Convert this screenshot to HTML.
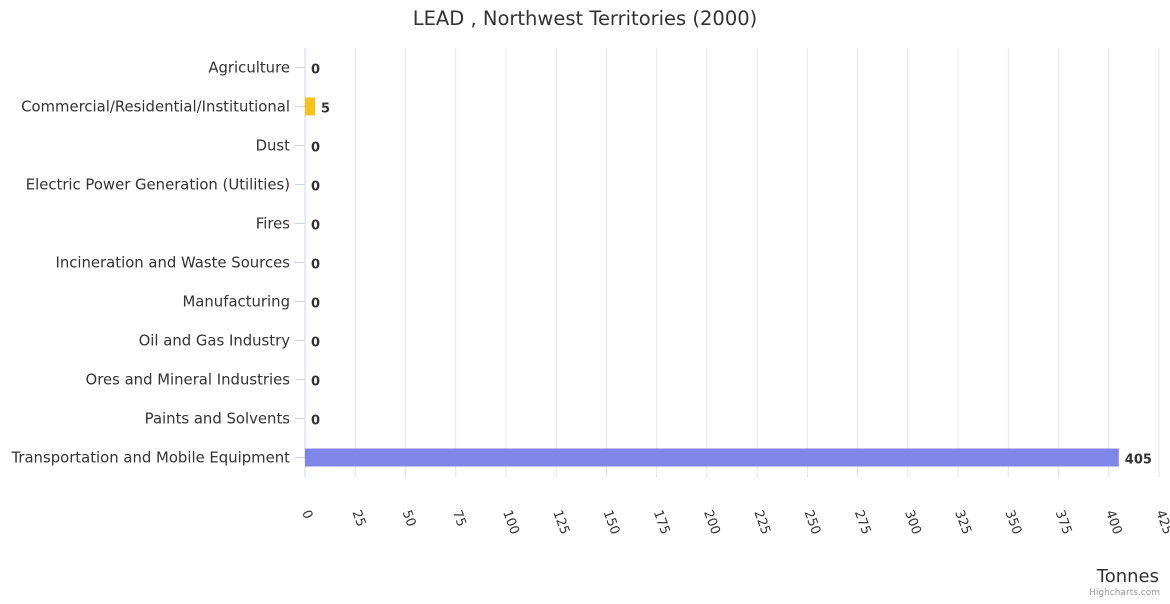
<!DOCTYPE html>
<html><head><meta charset="utf-8"><style>
body{margin:0;background:#fff;font-family:"DejaVu Sans",sans-serif}
svg text{font-family:"DejaVu Sans",sans-serif}
</style></head><body>
<svg id="c" width="1170" height="600" xmlns="http://www.w3.org/2000/svg">
<text x="585" y="25" text-anchor="middle" font-size="19.5" fill="#333">LEAD , Northwest Territories (2000)</text>
<g id="grid"></g><g id="bars"></g><g id="labels"></g>
<text x="1159" y="582" text-anchor="end" font-size="18" fill="#333">Tonnes</text>
<text x="1160" y="595" text-anchor="end" font-size="9" fill="#999">Highcharts.com</text>
</svg>
<script>
const categories=["Agriculture","Commercial/Residential/Institutional","Dust","Electric Power Generation (Utilities)","Fires","Incineration and Waste Sources","Manufacturing","Oil and Gas Industry","Ores and Mineral Industries","Paints and Solvents","Transportation and Mobile Equipment"];
const values=[0,5,0,0,0,0,0,0,0,0,405];
const colors=["#f7a35c","#f7c31a","#90ed7d","#7cb5ec","#434348","#8085e9","#f15c80","#e4d354","#2b908f","#f45b5b","#8085e8"];
const ticks=[0,25,50,75,100,125,150,175,200,225,250,275,300,325,350,375,400,425];
(function(){
const NS="http://www.w3.org/2000/svg";
const x0=305,x1=1159,plotTop=48,plotBot=477,xmax=425;
const xs=v=>x0+(v/xmax)*(x1-x0);
const rowH=(plotBot-plotTop)/categories.length;
const ys=i=>plotTop+rowH*(i+0.5);
function mk(t,a,p){const e=document.createElementNS(NS,t);for(const k in a)e.setAttribute(k,a[k]);p.appendChild(e);return e;}
const g=document.getElementById('grid'),b=document.getElementById('bars'),l=document.getElementById('labels');
ticks.forEach(t=>{
 const x=xs(t);
 const ln=mk('line',{x1:x,x2:x,y1:plotTop,y2:plotBot,stroke:t===0?'#ccd6eb':'#e6e6e6','stroke-width':1},g);
 
 
 const tx=mk('text',{x:x-3,y:512,'font-size':13,fill:'#333',transform:`rotate(70 ${x-3} 512)`},l);
 tx.textContent=t;
 
 
});
categories.forEach((c,i)=>{
 const y=ys(i);
 const tk=mk('line',{x1:x0-10,x2:x0,y1:y,y2:y,stroke:'#ccd6eb'},g);
 
 
 const tx=mk('text',{x:x0-15,y:y+5,'text-anchor':'end','font-size':14.85,fill:'#333'},l);
 tx.textContent=c;
 
 
 const v=values[i];
 const w=xs(v)-x0;
 if(w>0){const r=mk('rect',{x:x0,y:y-9,width:w,height:18,fill:colors[i]},b);
 
 }
 const vt=mk('text',{x:x0+w+6,y:y+6,'font-size':13,'font-weight':'bold',fill:'#333'},l);
 vt.textContent=v;
 
 
});
})();
</script>
</body></html>
